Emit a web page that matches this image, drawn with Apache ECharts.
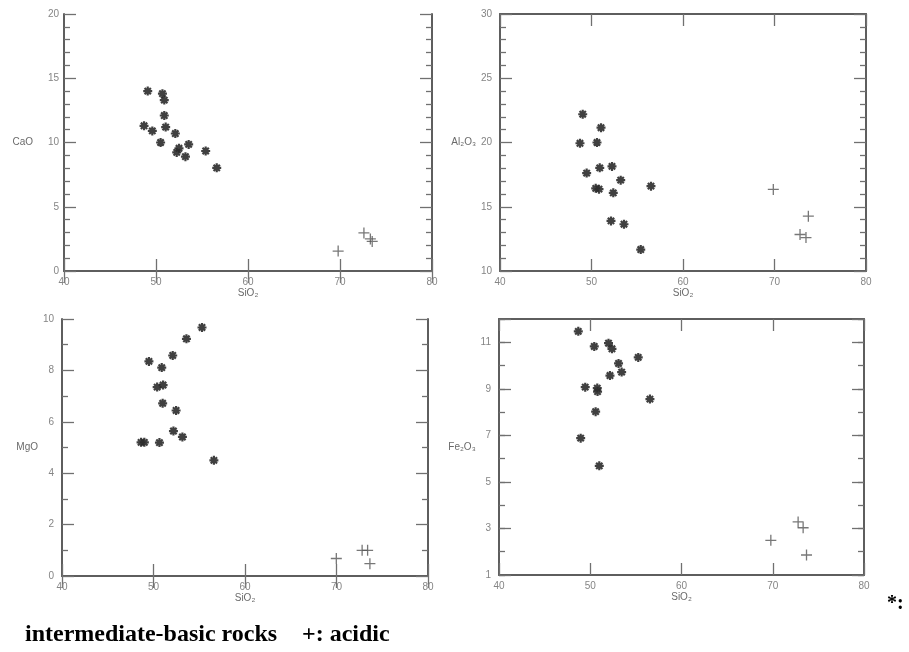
<!DOCTYPE html>
<html>
<head>
<meta charset="utf-8">
<script src="https://cdn.jsdelivr.net/npm/echarts@6/dist/echarts.min.js"></script>
<style>
  html, body { margin: 0; padding: 0; background: #ffffff; }
  #chart { width: 909px; height: 652px; }
</style>
</head>
<body>
<div id="chart"></div>
<script>
// SiO2 (x) against each oxide (y), wt%.
// Intermediate-basic rocks (*) and acidic rocks (+).
const xTicks = [40, 50, 60, 70, 80];

const caoBasicSiO2 = [49.1, 50.7, 50.9, 50.9, 51.05, 48.7, 49.6, 52.1, 50.5, 53.55, 52.5, 52.25, 53.2, 55.4, 56.6];
const caoBasic     = [14.0, 13.8, 13.3, 12.1, 11.2, 11.3, 10.9, 10.7, 10.0, 9.85, 9.55, 9.23, 8.9, 9.34, 8.03];
const caoAcidSiO2  = [69.8, 72.6, 73.3, 73.5];
const caoAcid      = [1.55, 2.96, 2.5, 2.3];

const alBasicSiO2 = [49.04, 51.04, 48.74, 50.6, 49.47, 50.9, 52.24, 53.19, 50.46, 50.82, 52.38, 56.5, 52.13, 53.55, 55.38];
const alBasic     = [22.2, 21.15, 19.94, 20.0, 17.62, 18.03, 18.14, 17.07, 16.43, 16.37, 16.08, 16.6, 13.9, 13.64, 11.67];
const alAcidSiO2  = [69.87, 73.7, 72.79, 73.44];
const alAcid      = [16.35, 14.27, 12.84, 12.6];

const mgBasicSiO2 = [55.3, 53.6, 52.1, 49.5, 50.9, 50.4, 51.05, 51.0, 52.47, 52.18, 53.16, 48.64, 49.0, 50.65, 56.6];
const mgBasic     = [9.67, 9.23, 8.58, 8.35, 8.11, 7.35, 7.43, 6.72, 6.44, 5.64, 5.41, 5.2, 5.2, 5.19, 4.5];
const mgAcidSiO2  = [69.98, 72.8, 73.4, 73.65];
const mgAcid      = [0.68, 1.0, 1.0, 0.48];

const feBasicSiO2 = [48.69, 50.44, 52.0, 52.38, 53.1, 53.44, 55.26, 52.16, 49.45, 50.77, 50.8, 56.54, 50.59, 48.95, 50.99];
const feBasic     = [11.47, 10.82, 10.96, 10.72, 10.09, 9.72, 10.35, 9.57, 9.07, 9.03, 8.88, 8.56, 8.02, 6.88, 5.69];
const feAcidSiO2  = [69.79, 72.78, 73.33, 73.7];
const feAcid      = [2.49, 3.28, 3.03, 1.86];

const oxideNames = ['CaO', 'Al\u2082O\u2083', 'MgO', 'Fe\u2082O\u2083'];
const xName = 'SiO\u2082';

const pair = (xs, ys) => xs.map((x, i) => [x, ys[i]]);

const panels = [
  { basic: pair(caoBasicSiO2, caoBasic), acid: pair(caoAcidSiO2, caoAcid),
    yMin: 0, yMax: 20, yStep: 5, minorSplit: 5, nameGap: 31, labelMargin: 5,
    grid: { left: 64, top: 14, width: 368, height: 257 } },
  { basic: pair(alBasicSiO2, alBasic), acid: pair(alAcidSiO2, alAcid),
    yMin: 10, yMax: 30, yStep: 5, minorSplit: 5, nameGap: 23, labelMargin: 8,
    grid: { left: 500, top: 14, width: 366, height: 257 } },
  { basic: pair(mgBasicSiO2, mgBasic), acid: pair(mgAcidSiO2, mgAcid),
    yMin: 0, yMax: 10, yStep: 2, minorSplit: 2, nameGap: 20, labelMargin: 8,
    grid: { left: 62, top: 319, width: 366, height: 257 } },
  { basic: pair(feBasicSiO2, feBasic), acid: pair(feAcidSiO2, feAcid),
    yMin: 1, yMax: 12, yStep: 2, minorSplit: 2, nameGap: 22, labelMargin: 8, oddOnly: true,
    grid: { left: 499, top: 319, width: 365, height: 256 } }
];

const frame = { show: true, lineStyle: { color: '#5e5e5e', width: 2 } };
const tickStyle = { color: '#707070', width: 1.3 };
const labelStyle = { color: '#858585', fontSize: 10, fontFamily: 'Liberation Sans, Arial, sans-serif' };
const nameStyle = { color: '#6a6a6a', fontSize: 10, fontFamily: 'Liberation Sans, Arial, sans-serif' };

const asterisk = 'path://M5,0L5,10M0,5L10,5M1.5,1.5L8.5,8.5M8.5,1.5L1.5,8.5';
const plus = 'path://M5,0L5,10M0,5L10,5';

const grid = [], xAxis = [], yAxis = [], series = [];

panels.forEach((p, gi) => {
  grid.push(p.grid);
  const xBase = { gridIndex: gi, type: 'value', min: xTicks[0], max: xTicks[xTicks.length - 1],
    interval: xTicks[1] - xTicks[0], splitLine: { show: false }, axisLine: frame,
    axisTick: { show: true, inside: true, length: 12, lineStyle: tickStyle } };
  xAxis.push(Object.assign({}, xBase, {
    position: 'bottom', name: xName, nameLocation: 'middle', nameGap: 17, nameTextStyle: nameStyle,
    axisLabel: Object.assign({ margin: 6 }, labelStyle)
  }));
  xAxis.push(Object.assign({}, xBase, { position: 'top', axisLabel: { show: false } }));

  const xi = xAxis.length - 2;

  if (!p.oddOnly) {
    const yBase = { gridIndex: gi, type: 'value', min: p.yMin, max: p.yMax, interval: p.yStep,
      splitLine: { show: false }, axisLine: frame,
      axisTick: { show: true, inside: true, length: 12, lineStyle: tickStyle },
      minorTick: { show: true, splitNumber: p.minorSplit, length: 6, lineStyle: tickStyle } };
    yAxis.push(Object.assign({}, yBase, {
      position: 'left', name: oxideNames[gi], nameLocation: 'middle', nameRotate: 0,
      nameGap: p.nameGap, nameTextStyle: nameStyle,
      axisLabel: Object.assign({ margin: p.labelMargin }, labelStyle)
    }));
    yAxis.push(Object.assign({}, yBase, { position: 'right', axisLabel: { show: false } }));
  } else {
    // unit ticks with labels on odd values, plus a second scale carrying the long ticks
    const unit = { gridIndex: gi, type: 'value', min: p.yMin, max: p.yMax, interval: 1,
      splitLine: { show: false }, axisLine: frame,
      axisTick: { show: true, inside: true, length: 6, lineStyle: tickStyle } };
    const major = { gridIndex: gi, type: 'value', min: p.yMin, max: p.yMax, interval: p.yStep,
      splitLine: { show: false }, axisLine: { show: false }, axisLabel: { show: false },
      axisTick: { show: true, inside: true, length: 12, lineStyle: tickStyle } };
    yAxis.push(Object.assign({}, unit, {
      position: 'left', name: oxideNames[gi], nameLocation: 'middle', nameRotate: 0,
      nameGap: p.nameGap, nameTextStyle: nameStyle,
      axisLabel: Object.assign({ margin: p.labelMargin,
        formatter: v => ((v - p.yMin) % p.yStep === 0 && v < p.yMax) ? String(v) : '' }, labelStyle)
    }));
    yAxis.push(Object.assign({}, unit, { position: 'right', axisLabel: { show: false } }));
    yAxis.push(Object.assign({}, major, { position: 'left' }));
    yAxis.push(Object.assign({}, major, { position: 'right' }));
  }
  const yi = p.oddOnly ? yAxis.length - 4 : yAxis.length - 2;

  series.push({ type: 'scatter', xAxisIndex: xi, yAxisIndex: yi, data: p.basic,
    symbol: asterisk, symbolSize: 9,
    itemStyle: { color: '#2b2b2b', borderColor: '#2b2b2b', borderWidth: 2.2, opacity: 0.9 },
    emphasis: { disabled: true }, silent: true });
  series.push({ type: 'scatter', xAxisIndex: xi, yAxisIndex: yi, data: p.acid,
    symbol: plus, symbolSize: 11,
    itemStyle: { color: '#555', borderColor: '#555', borderWidth: 1.3 },
    emphasis: { disabled: true }, silent: true });
});

const captionFont = 'bold 24px "Liberation Serif", "Times New Roman", serif';

const chart = echarts.init(document.getElementById('chart'), null, { renderer: 'canvas' });
chart.setOption({
  animation: false,
  backgroundColor: '#ffffff',
  grid, xAxis, yAxis, series,
  graphic: [
    { type: 'text', left: 887, top: 594,
      style: { text: '*:', font: 'bold 20px "Liberation Serif", serif', fill: '#000' } },
    { type: 'text', left: 25, top: 623,
      style: { text: 'intermediate-basic rocks', font: captionFont, fill: '#000' } },
    { type: 'text', left: 302, top: 623,
      style: { text: '+: acidic', font: captionFont, fill: '#000' } }
  ]
});
</script>
</body>
</html>
